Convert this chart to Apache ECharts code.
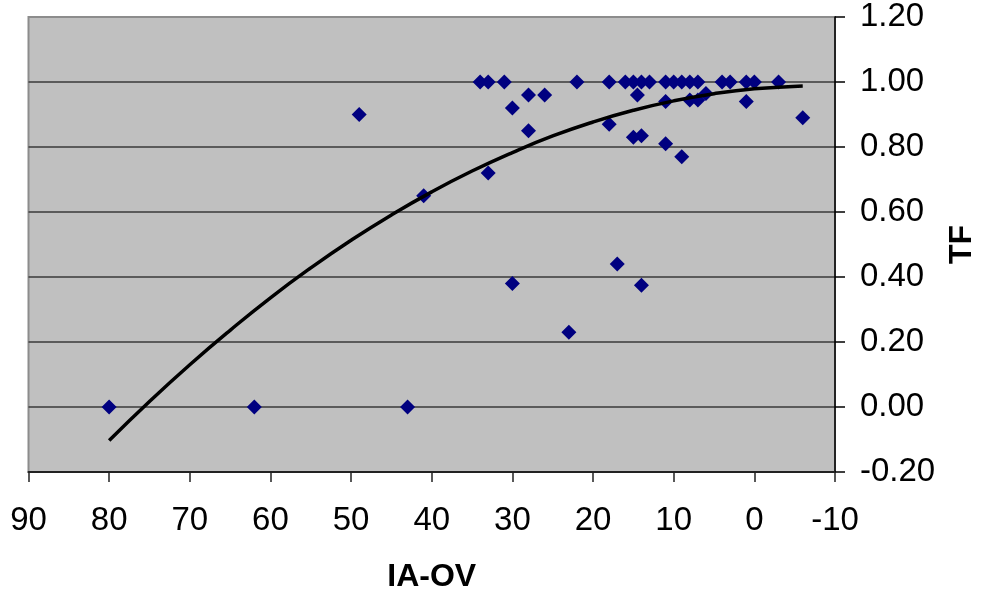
<!DOCTYPE html>
<html>
<head>
<meta charset="utf-8">
<script src="https://cdn.jsdelivr.net/npm/echarts@6/dist/echarts.min.js"></script>
<style>
    html, body { margin: 0; padding: 0; background: #fff; }
    #tf_chart { width: 984px; height: 591px; }
</style>
</head>
<body>
<div id="tf_chart"></div>
<script>
// measured points (IA-OV, TF)
const iaov = [80, 62, 43, 49, 41, 34, 33, 31, 33, 30, 30, 28, 28, 26, 23, 22, 18, 18, 17, 16,
    15, 14.5, 15, 14, 14, 14, 13, 11, 11, 11, 10, 9, 9, 8, 8, 7, 7, 6, 4, 3,
    1, 1, 0, -3, -6];
const tf = [0, 0, 0, 0.90, 0.65, 1.00, 1.00, 1.00, 0.72, 0.92, 0.38, 0.96, 0.85, 0.96, 0.23, 1.00, 1.00, 0.87, 0.44, 1.00,
    1.00, 0.96, 0.83, 0.835, 1.00, 0.375, 1.00, 1.00, 0.94, 0.81, 1.00, 1.00, 0.77, 1.00, 0.945, 1.00, 0.945, 0.965, 1.00, 1.00,
    1.00, 0.94, 1.00, 1.00, 0.89];

// trend line
const trendX = [80, 75, 70, 65, 60, 55, 50, 45, 40, 35, 30, 25, 20, 15, 10, 5, 0, -6];
const trendY = [-0.103, 0.017, 0.130, 0.236, 0.336, 0.428, 0.513, 0.591, 0.662, 0.726, 0.783, 0.834, 0.877, 0.913, 0.942, 0.964, 0.979, 0.988];

const xTicks = [-10, 0, 10, 20, 30, 40, 50, 60, 70, 80, 90];
const yTicks = [-0.2, 0, 0.2, 0.4, 0.6, 0.8, 1.0, 1.2];

let chart = echarts.init(document.getElementById('tf_chart'));

let points = [];
for (let i = 0; i < iaov.length; i++) {
    points.push([iaov[i], tf[i]]);
}
let trend = [];
for (let i = 0; i < trendX.length; i++) {
    trend.push([trendX[i], trendY[i]]);
}

const font = 'Liberation Sans, Arial, sans-serif';

const option = {
    animation: false,
    grid: {
        left: 28.5,
        right: 149,
        top: 17,
        bottom: 119,
        containLabel: false,
        outerBoundsMode: 'none',
        show: true,
        backgroundColor: '#C0C0C0',
        borderColor: '#8c8c8c',
        borderWidth: 2
    },
    xAxis: {
        type: 'value',
        inverse: true,
        min: xTicks[0],
        max: xTicks[xTicks.length - 1],
        interval: 10,
        name: 'IA-OV',
        nameLocation: 'middle',
        nameGap: 89,
        nameTextStyle: { fontFamily: font, fontSize: 32, fontWeight: 'bold', color: '#000' },
        axisLine: { onZero: false, lineStyle: { color: '#222', width: 2 } },
        axisTick: { length: 10, lineStyle: { color: '#222', width: 1.5 } },
        axisLabel: { margin: 32, fontFamily: font, fontSize: 33, color: '#000' },
        splitLine: { show: false }
    },
    yAxis: {
        type: 'value',
        position: 'right',
        min: yTicks[0],
        max: yTicks[yTicks.length - 1],
        interval: 0.2,
        name: 'TF',
        nameLocation: 'middle',
        nameRotate: 90,
        nameGap: 109,
        nameTextStyle: { fontFamily: font, fontSize: 32, fontWeight: 'bold', color: '#000' },
        axisLine: { show: true, onZero: false, lineStyle: { color: '#000', width: 1.5 } },
        axisTick: { show: true, length: 10, lineStyle: { color: '#000', width: 1.5 } },
        axisLabel: {
            margin: 25,
            fontFamily: font,
            fontSize: 33,
            color: '#000',
            formatter: function (v) { return v.toFixed(2); }
        },
        splitLine: {
            show: true,
            showMinLine: false,
            showMaxLine: false,
            lineStyle: { color: '#3a3a3a', width: 1.5 }
        }
    },
    series: [
        {
            name: 'TF',
            type: 'scatter',
            symbol: 'diamond',
            symbolSize: 15,
            itemStyle: { color: '#000080', opacity: 1 },
            data: points
        },
        {
            name: 'trend',
            type: 'line',
            smooth: true,
            showSymbol: false,
            z: 3,
            lineStyle: { color: '#000', width: 3.5 },
            data: trend
        }
    ]
};

chart.setOption(option);
</script>
</body>
</html>
